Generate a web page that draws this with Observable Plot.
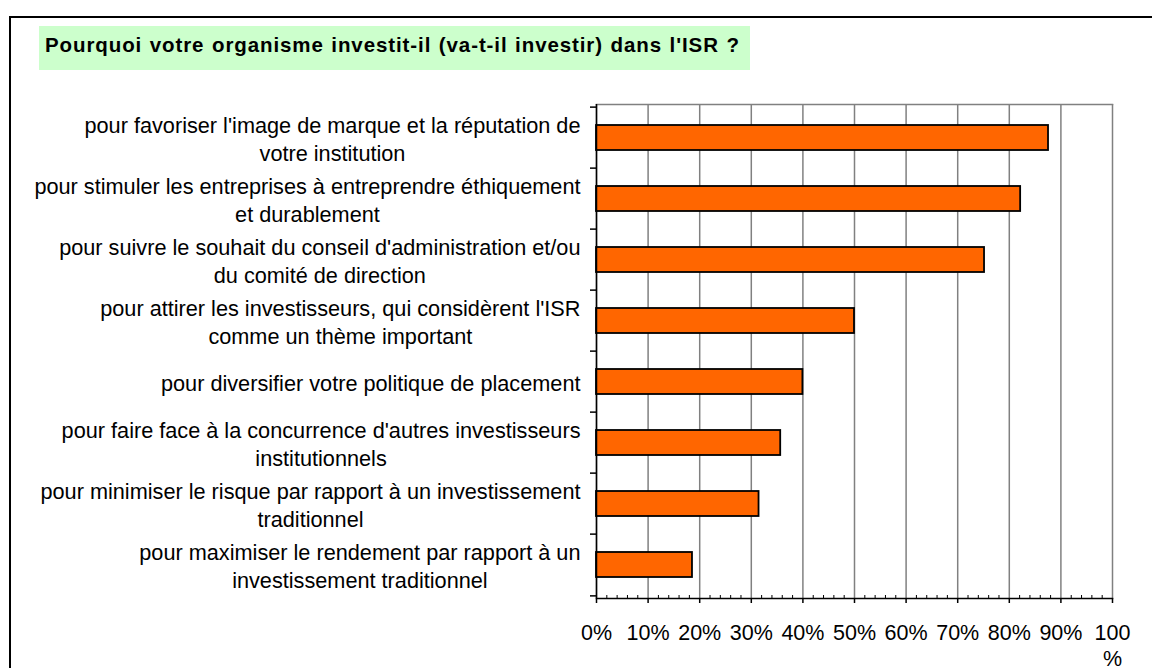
<!DOCTYPE html>
<html><head><meta charset="utf-8">
<script src="https://cdn.jsdelivr.net/npm/d3@7"></script>
<script src="https://cdn.jsdelivr.net/npm/@observablehq/plot@0.6"></script>
<style>
body{margin:0;background:#fff;}
#wrap{position:relative;width:1152px;height:668px;overflow:hidden;font-family:"Liberation Sans",Arial,sans-serif;background:#fff;}
#frame{position:absolute;left:9px;top:16px;width:1200px;height:700px;border:2px solid #000;}
#title{position:absolute;left:39px;top:26px;width:711px;height:44px;background:#ccffcc;font-weight:bold;font-size:20.5px;line-height:37px;padding-left:6px;box-sizing:border-box;letter-spacing:0.9px;word-spacing:1px;white-space:nowrap;}
#chart{position:absolute;left:0;top:90px;}
</style></head><body>
<div id="wrap"><div id="frame"></div><div id="title">Pourquoi votre organisme investit-il (va-t-il investir) dans l'ISR ?</div><div id="chart"></div></div>
<script>
const categories = [
  "pour favoriser l'image de marque et la réputation de\nvotre institution",
  "pour stimuler les entreprises à entreprendre éthiquement\net durablement",
  "pour suivre le souhait du conseil d'administration et/ou\ndu comité de direction",
  "pour attirer les investisseurs, qui considèrent l'ISR\ncomme un thème important",
  "pour diversifier votre politique de placement",
  "pour faire face à la concurrence d'autres investisseurs\ninstitutionnels",
  "pour minimiser le risque par rapport à un investissement\ntraditionnel",
  "pour maximiser le rendement par rapport à un\ninvestissement traditionnel"
];
const values = [87.6, 82.2, 75.2, 50.0, 40.0, 35.7, 31.5, 18.6];
const xTicks = [0, 10, 20, 30, 40, 50, 60, 70, 80, 90, 100];
const xTickLabels = ["0%", "10%", "20%", "30%", "40%", "50%", "60%", "70%", "80%", "90%", "100\n%"];
const minorTicks = d3.range(0, 101, 2).filter(v => v % 10 !== 0);

const data = categories.map((c, i) => ({label: c, value: values[i]}));
const labelOf = new Map(xTicks.map((t, i) => [t, xTickLabels[i]]));

const W = 1152, H = 578, mt = 14, mb = 70, ml = 596, mr = 40;
const step = (H - mt - mb) / categories.length;

const chart = Plot.plot({
  width: W, height: H,
  marginTop: mt, marginBottom: mb, marginLeft: ml, marginRight: mr,
  style: {fontFamily: "'Liberation Sans', Arial, sans-serif", fontSize: "21.7px", color: "#000", background: "transparent", overflow: "visible"},
  x: {domain: [0, 100], axis: null},
  y: {domain: categories, paddingInner: 0.585, paddingOuter: 0.2925, axis: null},
  marks: [
    Plot.gridX(xTicks, {stroke: "#808080", strokeOpacity: 1, strokeWidth: 1.5}),
    Plot.frame({anchor: "top", stroke: "#808080", strokeWidth: 1.5}),
    Plot.barX(data, {x: "value", y: "label", fill: "#ff6600", stroke: "#000", strokeWidth: 1.8}),
    Plot.ruleX([0], {stroke: "#000", strokeWidth: 1.5}),
    Plot.frame({anchor: "bottom", stroke: "#000", strokeWidth: 1.5}),
    Plot.axisY({tickSize: 6, dy: -step / 2, tickFormat: () => "", label: null, stroke: "#000", strokeWidth: 1.5}),
    Plot.axisY([categories[categories.length - 1]], {tickSize: 6, dy: step / 2, tickFormat: () => "", label: null, stroke: "#000", strokeWidth: 1.5}),
    Plot.axisY({tickSize: 0, tickPadding: 16, tickFormat: d => d, label: null, fontSize: 21.7, lineHeight: 1.29, fill: "#000"}),
    Plot.axisX(xTicks, {tickSize: 5, tickPadding: 18, tickFormat: d => labelOf.get(d), label: null, fontSize: 21.5, lineHeight: 1.2, stroke: "#000", strokeWidth: 1.5, fill: "#000"}),
    Plot.axisX(minorTicks, {tickSize: 3, dy: -3, tickFormat: () => "", label: null, stroke: "#000", strokeWidth: 1})
  ]
});
document.getElementById("chart").appendChild(chart);

// Center wrapped lines of each category label relative to each other (block stays right-aligned)
chart.querySelectorAll("g[aria-label='y-axis tick label'] text").forEach(t => {
  const spans = t.querySelectorAll("tspan");
  if (spans.length < 2) return;
  let w = 0;
  spans.forEach(s => { w = Math.max(w, s.getComputedTextLength()); });
  t.setAttribute("text-anchor", "middle");
  spans.forEach(s => s.setAttribute("x", -w / 2));
});
</script>
</body></html>
